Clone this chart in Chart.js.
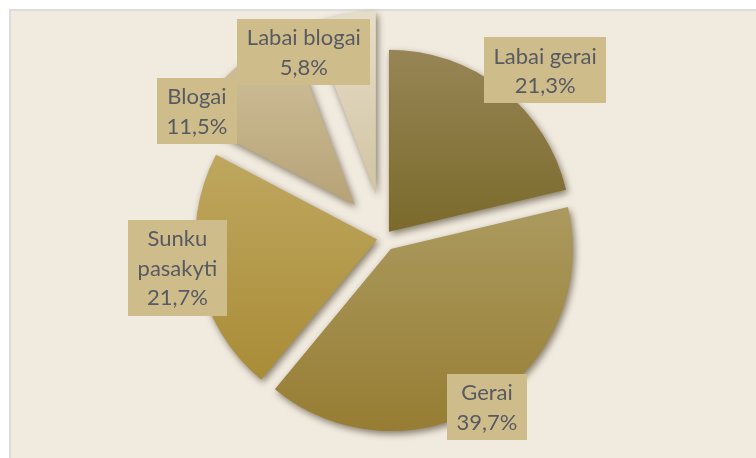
<!DOCTYPE html>
<html>
<head>
<meta charset="utf-8">
<script src="https://cdn.jsdelivr.net/npm/chart.js@4/dist/chart.umd.min.js"></script>
<style>
  html, body { margin: 0; padding: 0; background: #ffffff; }
  #wrap { width: 756px; height: 458px; }
</style>
</head>
<body>
<div id="wrap"><canvas id="pie" width="756" height="458"></canvas></div>
<script>
// data
const categories = ['Labai gerai', 'Gerai', 'Sunku pasakyti', 'Blogai', 'Labai blogai'];
const shares = [21.3, 39.7, 21.7, 11.5, 5.8];

// look
const topColors = ['#978555', '#ab9a5f', '#bfa75f', '#d1c39c', '#e7dec9'];
const bottomColors = ['#7b6a2b', '#977d33', '#a98c37', '#b7a277', '#d2c4a3'];
const explode = [8, 13, 7, 44, 45];
const pieRadius = 182;
// label box placement: [angle shift from slice middle (deg), distance as share of radius]
const labelPlace = [[5.7, 1.234], [0.5, 1.015], [3.3, 1.108], [-17.6, 1.01], [-16.5, 0.873]];

const total = shares.reduce((a, b) => a + b, 0);

function sliceGradient(c) {
  const chart = c.chart;
  const i = c.dataIndex;
  const area = chart.chartArea;
  if (!area) return topColors[i];
  const cx = (area.left + area.right) / 2;
  const cy = (area.top + area.bottom) / 2;
  let before = 0;
  for (let k = 0; k < i; k++) before += shares[k];
  const a0 = -Math.PI / 2 + 2 * Math.PI * before / total;
  const a1 = a0 + 2 * Math.PI * shares[i] / total;
  let ymin = cy, ymax = cy;
  for (let s = 0; s <= 60; s++) {
    const y = cy + pieRadius * Math.sin(a0 + (a1 - a0) * s / 60);
    ymin = Math.min(ymin, y);
    ymax = Math.max(ymax, y);
  }
  const g = chart.ctx.createLinearGradient(0, ymin, 0, ymax);
  g.addColorStop(0, topColors[i]);
  g.addColorStop(1, bottomColors[i]);
  return g;
}

const frame = {
  id: 'frame',
  beforeDraw(chart) {
    const ctx = chart.ctx;
    ctx.save();
    ctx.fillStyle = '#ffffff';
    ctx.fillRect(0, 0, chart.width, chart.height);
    ctx.fillStyle = '#dcdcdc';
    ctx.fillRect(9, 9, chart.width - 9, chart.height - 9);
    ctx.fillStyle = '#f1eadf';
    ctx.fillRect(11, 11, chart.width - 11, chart.height - 11);
    ctx.restore();
  }
};

const explodedSlices = {
  id: 'explodedSlices',
  beforeDatasetDraw(chart, args) {
    const ctx = chart.ctx;
    args.meta.data.forEach((arc, i) => {
      const mid = (arc.startAngle + arc.endAngle) / 2;
      ctx.save();
      ctx.shadowColor = 'rgba(60, 50, 25, 0.6)';
      ctx.shadowBlur = 7;
      ctx.shadowOffsetX = 2;
      ctx.shadowOffsetY = 3;
      ctx.translate(Math.cos(mid) * explode[i], Math.sin(mid) * explode[i]);
      arc.draw(ctx);
      ctx.restore();
    });
    return false;
  },
  afterDatasetsDraw(chart) {
    const ctx = chart.ctx;
    const meta = chart.getDatasetMeta(0);
    ctx.save();
    ctx.font = '22px Lato';
    ctx.textAlign = 'center';
    ctx.textBaseline = 'middle';
    meta.data.forEach((arc, i) => {
      const mid = (arc.startAngle + arc.endAngle) / 2;
      const ax = arc.x + Math.cos(mid) * explode[i];
      const ay = arc.y + Math.sin(mid) * explode[i];
      const ang = mid + labelPlace[i][0] * Math.PI / 180;
      const dist = pieRadius * labelPlace[i][1];
      const lx = ax + Math.cos(ang) * dist;
      const ly = ay + Math.sin(ang) * dist;

      const name = categories[i];
      const lines = ctx.measureText(name).width > 125 ? name.split(' ') : [name];
      lines.push(shares[i].toFixed(1).replace('.', ',') + '%');
      const w = Math.max(...lines.map(t => ctx.measureText(t).width)) + 19;
      const lh = 29.5;
      const h = lines.length * lh + 7;

      ctx.fillStyle = '#cebd8b';
      ctx.fillRect(Math.round(lx - w / 2), Math.round(ly - h / 2), Math.round(w), Math.round(h));
      ctx.fillStyle = '#585a62';
      lines.forEach((t, k) => {
        ctx.fillText(t, lx, ly + (k - (lines.length - 1) / 2) * lh + 1);
      });
    });
    ctx.restore();
  }
};

new Chart(document.getElementById('pie').getContext('2d'), {
  type: 'pie',
  data: {
    labels: categories,
    datasets: [
      {
        data: shares,
        backgroundColor: sliceGradient,
        borderWidth: 0,
        radius: pieRadius,
      },
    ],
  },
  options: {
    responsive: false,
    animation: false,
    layout: { padding: { left: 12, top: 18, right: 0, bottom: 0 } },
    plugins: {
      legend: { display: false },
      tooltip: { enabled: false },
    },
  },
  plugins: [frame, explodedSlices],
});
</script>
</body>
</html>
